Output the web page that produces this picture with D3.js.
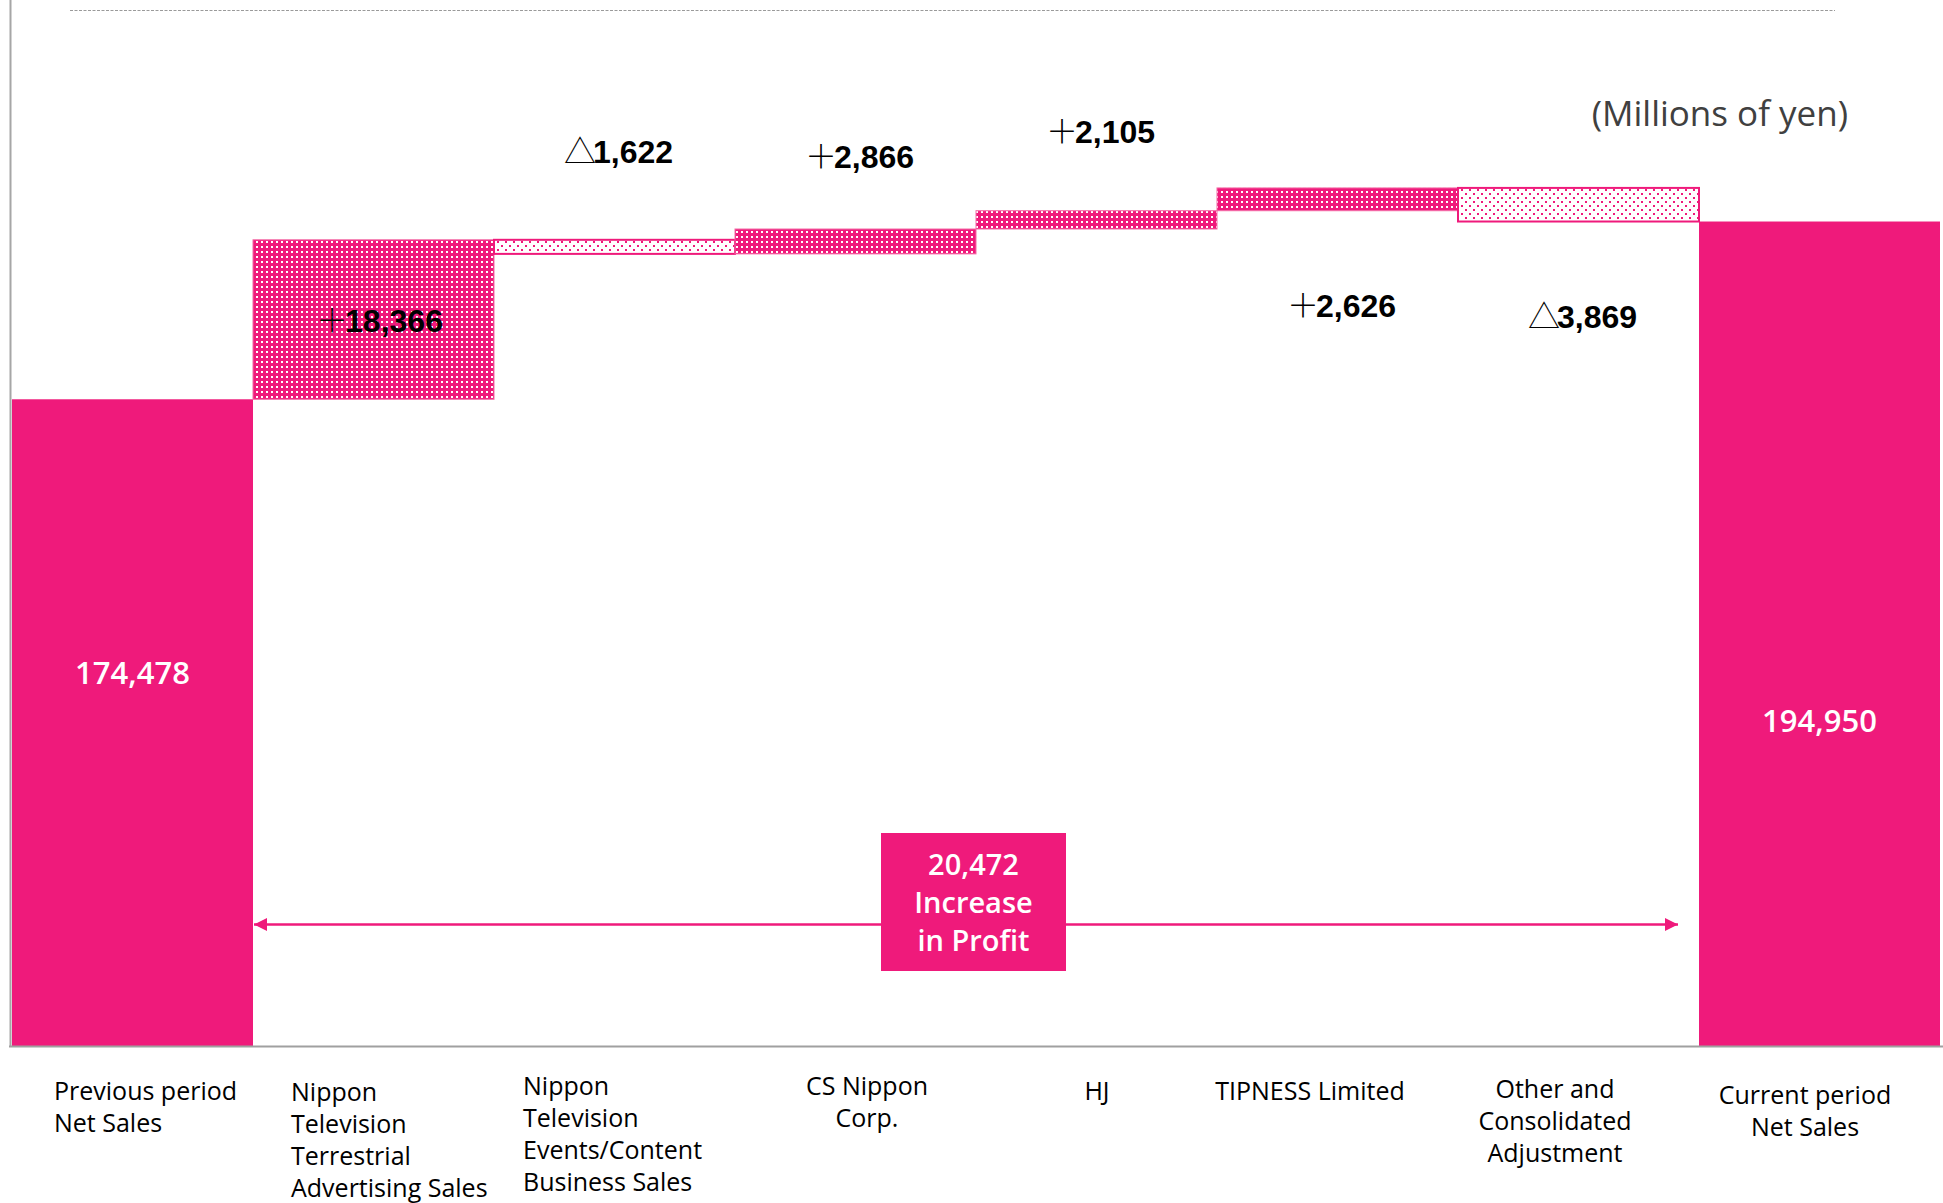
<!DOCTYPE html>
<html>
<head>
<meta charset="utf-8">
<script src="https://cdn.jsdelivr.net/npm/d3@7"></script>
<style>
  html, body { margin: 0; padding: 0; background: #fff; }
  svg { display: block; }
</style>
</head>
<body>
<svg id="chart" width="1943" height="1203"></svg>
<script>
// ---- data ----
const categories = [
  "Previous period\nNet Sales",
  "Nippon\nTelevision\nTerrestrial\nAdvertising Sales",
  "Nippon\nTelevision\nEvents/Content\nBusiness Sales",
  "CS Nippon\nCorp.",
  "HJ",
  "TIPNESS Limited",
  "Other and\nConsolidated\nAdjustment",
  "Current period\nNet Sales"
];
const barValues = [174478, 18366, -1622, 2866, 2105, 2626, -3869, 194950];
const barKinds = ["total", "delta", "delta", "delta", "delta", "delta", "delta", "total"];
const unitLabel = "(Millions of yen)";
const summaryLines = ["Increase", "in Profit"];
const yDomain = [100000, 220000];

// ---- layout (not data) ----
const W = 1943, H = 1203;
const PINK = "#EF1A7B";
const plot = { left: 12, right: 1940, top: 4, bottom: 1046 };
const catLayout = [
  { anchor: "start",  dx: 42,  y: 1100 },
  { anchor: "start",  dx: 38,  y: 1101 },
  { anchor: "start",  dx: 29,  y: 1095 },
  { anchor: "middle", dx: 132, y: 1095 },
  { anchor: "middle", dx: 121, y: 1100 },
  { anchor: "middle", dx: 93,  y: 1100 },
  { anchor: "middle", dx: 97,  y: 1098 },
  { anchor: "middle", dx: 106, y: 1104 }
];
const deltaLayout = [null,
  { mode: "inside", dy: 12 },
  { mode: "above", dy: -77 },
  { mode: "above", dy: -61 },
  { mode: "above", dy: -68 },
  { mode: "below", dy: 106 },
  { mode: "below", dy: 106 },
  null];

const svg = d3.select("#chart");
const defs = svg.append("defs");

const pUp = defs.append("pattern").attr("id", "pUp")
  .attr("patternUnits", "userSpaceOnUse").attr("width", 5).attr("height", 5);
pUp.append("rect").attr("width", 5).attr("height", 5).attr("fill", PINK);
pUp.append("rect").attr("x", 1).attr("y", 1).attr("width", 2).attr("height", 2).attr("fill", "#fff");

const pDown = defs.append("pattern").attr("id", "pDown")
  .attr("patternUnits", "userSpaceOnUse").attr("width", 8).attr("height", 8);
pDown.append("rect").attr("width", 8).attr("height", 8).attr("fill", "#fff");
pDown.append("rect").attr("x", 1).attr("y", 1).attr("width", 2).attr("height", 2).attr("fill", PINK);
pDown.append("rect").attr("x", 5).attr("y", 5).attr("width", 2).attr("height", 2).attr("fill", PINK);

const x = d3.scaleBand().domain(d3.range(categories.length))
  .range([plot.left, plot.right]).padding(0);
const y = d3.scaleLinear().domain(yDomain).range([plot.bottom, plot.top]);

let running = 0;
const bars = barValues.map((v, i) => {
  let y0, y1;
  if (barKinds[i] === "total") { y0 = yDomain[0]; y1 = v; running = v; }
  else { y0 = running; y1 = running + v; running = y1; }
  return { i, v, kind: barKinds[i], lo: Math.min(y0, y1), hi: Math.max(y0, y1) };
});

svg.append("line")
  .attr("x1", 70).attr("x2", 1835).attr("y1", 10.5).attr("y2", 10.5)
  .attr("stroke", "#9a9a9a").attr("stroke-width", 1).attr("stroke-dasharray", "3,1.5");

svg.append("line")
  .attr("x1", 10.5).attr("x2", 10.5).attr("y1", 0).attr("y2", plot.bottom + 1)
  .attr("stroke", "#a6a6a6").attr("stroke-width", 2);

const g = svg.append("g");
g.selectAll("rect.bar").data(bars).join("rect")
  .attr("class", "bar")
  .attr("x", d => x(d.i))
  .attr("width", x.bandwidth())
  .attr("y", d => y(d.hi))
  .attr("height", d => y(d.lo) - y(d.hi))
  .attr("fill", d => d.kind === "total" ? PINK : (d.v >= 0 ? "url(#pUp)" : "url(#pDown)"))
  .attr("stroke", d => d.kind === "total" ? "none" : (d.v >= 0 ? "#F46AA6" : PINK))
  .attr("stroke-width", d => d.v >= 0 ? 1 : 2);

svg.append("line")
  .attr("x1", 9).attr("x2", W).attr("y1", plot.bottom + 0.5).attr("y2", plot.bottom + 0.5)
  .attr("stroke", "#a0a0a0").attr("stroke-width", 2);

const totalFmt = d3.format(",");
const totalOffsets = { 0: 285, 7: 510 };
bars.filter(d => d.kind === "total").forEach(d => {
  svg.append("text")
    .attr("x", x(d.i) + x.bandwidth() / 2)
    .attr("y", y(d.hi) + totalOffsets[d.i])
    .attr("text-anchor", "middle")
    .attr("font-family", "'Open Sans', 'Noto Sans', sans-serif")
    .attr("font-weight", 600)
    .attr("font-size", 31)
    .attr("fill", "#fff")
    .text(totalFmt(d.v));
});

bars.filter(d => d.kind === "delta").forEach(d => {
  const L = deltaLayout[d.i];
  let ty;
  if (L.mode === "inside") ty = (y(d.hi) + y(d.lo)) / 2 + L.dy;
  else if (L.mode === "above") ty = y(d.hi) + L.dy;
  else ty = y(d.lo) + L.dy;
  const t = svg.append("text")
    .attr("x", x(d.i) + x.bandwidth() / 2 + (d.i === 1 ? 6 : 4))
    .attr("y", ty)
    .attr("text-anchor", "middle")
    .attr("font-family", "'Liberation Sans', Arial, sans-serif")
    .attr("font-size", 32)
    .attr("fill", "#000");
  t.append("tspan")
    .attr("font-family", "'Noto Sans CJK JP', sans-serif")
    .attr("font-weight", 300)
    .text(d.v >= 0 ? "＋" : "△");
  t.append("tspan")
    .attr("font-weight", "bold")
    .attr("dx", -3)
    .text(totalFmt(Math.abs(d.v)));
});

svg.append("text")
  .attr("x", 1848).attr("y", 126)
  .attr("text-anchor", "end")
  .attr("font-family", "'Open Sans', 'Noto Sans', sans-serif")
  .attr("font-size", 35)
  .attr("fill", "#404040")
  .text(unitLabel);

categories.forEach((c, i) => {
  const L = catLayout[i];
  const t = svg.append("text")
    .attr("text-anchor", L.anchor)
    .attr("font-family", "'Open Sans', 'Noto Sans', sans-serif")
    .attr("font-size", 25)
    .attr("fill", "#000");
  c.split("\n").forEach((line, k) => {
    t.append("tspan").attr("x", x(i) + L.dx).attr("y", L.y + k * 32).text(line);
  });
});

const arrowY = 924.5;
const ax1 = x(1), ax2 = x(7) - 20;
defs.append("marker").attr("id", "head").attr("viewBox", "0 0 10 10")
  .attr("refX", 10).attr("refY", 5).attr("markerWidth", 5).attr("markerHeight", 6)
  .attr("markerUnits", "strokeWidth").attr("orient", "auto-start-reverse")
  .append("path").attr("d", "M0,0 L10,5 L0,10 Z").attr("fill", PINK);
svg.append("line")
  .attr("x1", ax1 + 1).attr("x2", ax2 - 1).attr("y1", arrowY).attr("y2", arrowY)
  .attr("stroke", PINK).attr("stroke-width", 2.6)
  .attr("marker-start", "url(#head)").attr("marker-end", "url(#head)");

const diff = barValues[barValues.length - 1] - barValues[0];
const bx = 881, bw = 185, byTop = 833, bh = 138;
svg.append("rect").attr("x", bx).attr("y", byTop).attr("width", bw).attr("height", bh).attr("fill", PINK);
const st = svg.append("text").attr("text-anchor", "middle")
  .attr("font-family", "'Open Sans', 'Noto Sans', sans-serif")
  .attr("font-weight", 600).attr("font-size", 29).attr("fill", "#fff");
[totalFmt(diff)].concat(summaryLines).forEach((line, k) => {
  st.append("tspan").attr("x", bx + bw / 2).attr("y", 875 + k * 38).text(line);
});
</script>
</body>
</html>
